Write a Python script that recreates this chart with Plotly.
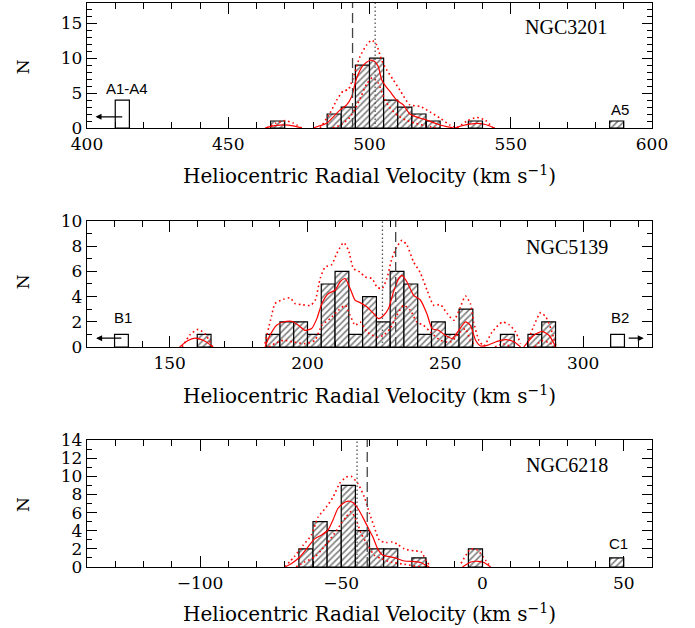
import plotly.graph_objects as go

BIN_WIDTH = 5

# ---------------- NGC3201 ----------------
p1_bin_left = [465, 485, 490, 495, 500, 505, 510, 515, 520, 535, 585]
p1_counts = [1, 2, 3, 9, 10, 4, 3, 2, 1, 1, 1]
p1_open_left = [410]
p1_open_counts = [4]
p1_kde_x = [463, 466, 470, 473, 476, None, 480, 484.8, 487.2, 489.6, 491.9, 493.7, 494.9, 496.1, 497.8,
            500.2, 501.9, 503.1, 504.3, 505.5, 507.3, 509.6, 512, 514.3, 517.9, 520.2, 522.6, 525,
            527.3, 529.7, None, 530, 534, 538, 541, 544.4]
p1_kde_y = [0, 0.3, 0.45, 0.3, 0, None, 0, 0.67, 1.6, 2.6, 3.3, 4.5, 6.4, 7.8, 9.0,
            9.7, 9.5, 8.8, 6.9, 6.1, 5.2, 4.0, 3.3, 2.0, 1.4, 1.15, 0.76, 0.43,
            0.19, 0, None, 0, 0.45, 0.67, 0.5, 0]
p1_up_x = [463.6, 467, 470.1, 473, 476, None, 482.5, 486, 488.4, 490.7, 492.5, 494.3, 496.6, 499,
           500.8, 502.5, 504.3, 506.1, 508.4, 510.8, 514.3, 517.9, 521.4, 525, 528.5, 531, None,
           531, 534.5, 538, 541, 543.7]
p1_up_y = [0, 0.7, 1.05, 0.7, 0, None, 0, 2.1, 4.0, 5.3, 5.5, 7.3, 10.2, 11.9,
           12.6, 11.9, 9.7, 8.3, 6.9, 5.4, 3.3, 3.1, 2.3, 1.4, 0.43, 0, None,
           0, 1.0, 1.5, 1.1, 0]
p1_lo_x = [487, 490, 493, 495, 497, 499, 501, 503, 505, 507, 510, 513, 516, 520, 524]
p1_lo_y = [0, 0.5, 1.5, 2.8, 4.5, 6.3, 7.2, 6.5, 4.5, 3.0, 1.8, 1.1, 0.7, 0.3, 0]
p1_dotted_v = 502
p1_dashed_v = 494

# ---------------- NGC5139 ----------------
p2_bin_left = [160, 185, 190, 195, 200, 205, 210, 215, 220, 225, 230, 235, 240, 245, 250, 255, 270, 280, 285]
p2_counts = [1, 1, 2, 2, 1, 5, 6, 1, 4, 2, 6, 5, 1, 2, 1, 3, 1, 1, 2]
p2_open_left = [130, 310]
p2_open_counts = [1, 1]
p2_kde_x = [153.6, 156.5, 159.1, 162.5, 165.8, None,
            184.6, 186.4, 188.8, 191.2, 194.3, 196.7, 199.1, 201.5, 203.4, 205.2, 207.6, 210, 211.8,
            213.7, 215.5, 217.3, 219.1, 221.6, 224, 225.8, 227.6, 229.4, 231.2, 233.1, 234.3, 236.1,
            238.5, 240.9, 243.4, 245.2, 247.6, 250, 252.5, 254.9, 257.3, 259.1, 261, 262.8, 265.2,
            268.8, 271.9, 274.9, 277.3, None, 278.5, 282.2, 285.2, 287.6, 290.1]
p2_kde_y = [0, 0.5, 0.71, 0.5, 0, None,
            0, 0.93, 1.72, 1.98, 2.04, 1.72, 1.32, 1.46, 2.25, 3.44, 4.24, 4.5, 5.16,
            5.43, 4.63, 3.7, 3.52, 3.17, 2.65, 2.25, 2.5, 3.05, 4.37, 5.43, 5.69, 5.16,
            4.1, 3.75, 2.6, 1.46, 1.32, 0.93, 0.67, 1.32, 2.0, 1.72, 0.53, 0.08, 0.13,
            0.45, 0.58, 0.42, 0, None, 0, 0.93, 1.24, 0.93, 0]
p2_up_x = [154.5, 157.5, 160.3, 163, 165.5, None,
           184.6, 187, 188.2, 191.2, 193.7, 195.5, 197.9, 201, 202.8, 204.6, 206.4, 208.8, 210.6,
           213.1, 214.9, 216.7, 219.1, 220.9, 223.4, 225.2, 227, 228.8, 230.6, 232.4, 234.3, 236.1,
           238.5, 240.9, 243.4, 245.8, 248.2, 250.7, 253.1, 255.5, 257.3, 259.1, 260.3, 262.2, 264,
           267, 270.7, 273.1, 275.5, 277.3, None, 279.8, 282.2, 284.6, 286.5, 288.3, 290.1]
p2_up_y = [0, 1.0, 1.4, 1.0, 0, None,
           0.27, 2.5, 3.44, 3.78, 3.9, 3.44, 3.36, 3.3, 3.7, 5.43, 6.35, 6.54, 7.41,
           8.28, 7.67, 6.22, 5.95, 5.56, 5.43, 4.76, 4.63, 5.43, 7.0, 7.94, 8.47, 8.07,
           6.75, 5.9, 4.5, 3.31, 3.36, 2.65, 2.12, 3.17, 4.05, 3.44, 1.98, 0.53, 0.08,
           1.19, 1.98, 1.77, 1.19, 0.26, None, 0.3, 1.72, 2.73, 2.38, 1.46, 0.13]
p2_lo_x = [186, 188.2, 191.2, 194.8, 199.1, 202.7, 205.2, 208.2, 211.2, 213.7, 215.5, 217.3, 219.1,
           221.6, 225.2, 227.6, 230, 232.4, 234.9, 237.3, 239.7, 242.1, 244.6, 248.2, 251.9, 255.5,
           257.3, 259.1, 261, None, 268, 271, 274, None, 282.5, 285, 288, 290]
p2_lo_y = [0, 0.27, 0.53, 0.4, 0.27, 0.53, 1.72, 2.25, 2.91, 3.31, 2.51, 1.72, 1.98,
           1.19, 0.79, 0.93, 1.46, 2.51, 3.31, 2.91, 1.98, 1.72, 1.19, 0.53, 0.4, 1.19,
           1.46, 0.53, 0.08, None, 0, 0.25, 0, None, 0, 0.5, 0.3, 0]
p2_dotted_v = 227.2
p2_dashed_v = 232

# ---------------- NGC6218 ----------------
p3_bin_left = [-65, -60, -55, -50, -45, -40, -35, -25, -5, 45]
p3_counts = [2, 5, 4, 9, 4, 2, 2, 1, 2, 1]
p3_kde_x = [-70, -67.7, -64.7, -61.8, -59.4, -57.1, -54.7, -52.9, -51.2, -49.4, -47.6, -45.9, -44.1,
            -42.4, -40.6, -38.8, -37.1, -35.3, -33.5, -31.2, -27.7, -24.1, -21.8, -20, -18.8, None,
            -7.1, -4.1, -1.5, 0.5, 2.9]
p3_kde_y = [0, 0.37, 1.1, 2.2, 3.1, 3.5, 4.05, 5.2, 6.45, 7.0, 7.26, 7.1, 6.45,
            5.5, 4.4, 3.3, 2.0, 1.3, 1.18, 1.03, 0.66, 0.6, 0.5, 0.18, 0, None,
            0, 0.55, 0.63, 0.5, 0]
p3_up_x = [-70, -66.5, -63.5, -60.6, -58.2, -55.3, -52.9, -50.6, -48.3, -46.5, -44.1, -41.8, -40,
           -38.3, -36.5, -34.1, -31.8, -30, -27.7, -24.1, -21.8, -20, -18.8, None,
           -7.6, -4.1, -1.8, 1.2, 2.9]
p3_up_y = [0, 1.18, 2.4, 3.5, 5.5, 6.6, 7.7, 9.2, 9.9, 10.0, 9.2, 7.7, 5.9,
           4.4, 2.95, 2.7, 2.76, 2.5, 2.0, 1.77, 1.7, 0.74, 0.2, None,
           0.4, 2.0, 1.85, 0.7, 0]
p3_lo_x = [-66, -63, -59.4, -57.1, -54.7, -52.4, -50, -48.3, -46.5, -44.7, -43, -40.6, -38.3,
           -35.9, -32.4, -27.7, -22]
p3_lo_y = [0, 0.55, 1.1, 1.84, 2.76, 3.7, 4.8, 5.5, 6.1, 5.2, 3.7, 2.4, 1.3,
           0.92, 0.55, 0.3, 0]
p3_dotted_v = -44.4
p3_dashed_v = -40.8

panel_names = ["NGC3201", "NGC5139", "NGC6218"]
xtitle = "Heliocentric Radial Velocity (km s<sup>−1</sup>)"

SERIF = "DejaVu Serif"
SANS = "Liberation Sans"

fig = go.Figure()


def centers(lefts):
    return [v + BIN_WIDTH / 2 for v in lefts]


panels = [
    dict(xa="x", ya="y", left=p1_bin_left, cnt=p1_counts, oleft=p1_open_left, ocnt=p1_open_counts,
         kx=p1_kde_x, ky=p1_kde_y, ux=p1_up_x, uy=p1_up_y, lx=p1_lo_x, ly=p1_lo_y,
         dot=p1_dotted_v, dash=p1_dashed_v),
    dict(xa="x2", ya="y2", left=p2_bin_left, cnt=p2_counts, oleft=p2_open_left, ocnt=p2_open_counts,
         kx=p2_kde_x, ky=p2_kde_y, ux=p2_up_x, uy=p2_up_y, lx=p2_lo_x, ly=p2_lo_y,
         dot=p2_dotted_v, dash=p2_dashed_v),
    dict(xa="x3", ya="y3", left=p3_bin_left, cnt=p3_counts, oleft=[], ocnt=[],
         kx=p3_kde_x, ky=p3_kde_y, ux=p3_up_x, uy=p3_up_y, lx=p3_lo_x, ly=p3_lo_y,
         dot=p3_dotted_v, dash=p3_dashed_v),
]
y_tops = [17.9, 10, 14]

for i, p in enumerate(panels):
    fig.add_trace(go.Bar(
        x=centers(p["left"]), y=p["cnt"], width=BIN_WIDTH, xaxis=p["xa"], yaxis=p["ya"],
        marker=dict(color="white", line=dict(color="black", width=1.2),
                    pattern=dict(shape="/", fgcolor="black", bgcolor="white", size=4.5, solidity=0.36)),
        showlegend=False, hoverinfo="skip"))
    if p["oleft"]:
        fig.add_trace(go.Bar(
            x=centers(p["oleft"]), y=p["ocnt"], width=BIN_WIDTH, xaxis=p["xa"], yaxis=p["ya"],
            marker=dict(color="white", line=dict(color="black", width=1.2)),
            showlegend=False, hoverinfo="skip"))
    for xs, ys, dash, w in [(p["ux"], p["uy"], "1.6px,3px", 1.6), (p["lx"], p["ly"], "1.6px,3px", 1.6),
                            (p["kx"], p["ky"], "solid", 1.2)]:
        fig.add_trace(go.Scatter(x=xs, y=ys, mode="lines", xaxis=p["xa"], yaxis=p["ya"],
                                 line=dict(color="#ff0000", width=w, dash=dash, shape="spline",
                                           smoothing=0.6),
                                 connectgaps=False, showlegend=False, hoverinfo="skip"))
    fig.add_trace(go.Scatter(x=[p["dash"], p["dash"]], y=[0, y_tops[i]], mode="lines",
                             xaxis=p["xa"], yaxis=p["ya"],
                             line=dict(color="#444444", width=1.3, dash="10px,5px"),
                             showlegend=False, hoverinfo="skip"))
    fig.add_trace(go.Scatter(x=[p["dot"], p["dot"]], y=[0, y_tops[i]], mode="lines",
                             xaxis=p["xa"], yaxis=p["ya"],
                             line=dict(color="#555555", width=1.3, dash="1.5px,2.5px"),
                             showlegend=False, hoverinfo="skip"))

x_ranges = [[400, 600], [120, 325], [-140, 60]]
y_ranges = [[0, 17.9], [0, 10], [0, 14]]
y_domains = [[0.7784, 1.0], [0.3901, 0.6135], [0.0, 0.2252]]
y_dticks = [5, 2, 2]

axis_common = dict(showline=True, linecolor="black", linewidth=1.3, mirror="allticks",
                   ticks="inside", tickcolor="black", tickwidth=1.2, showgrid=False,
                   zeroline=False, automargin=False,
                   tickfont=dict(family=SERIF, size=17, color="black"))

for i in range(3):
    sfx = "" if i == 0 else str(i + 1)
    fig.update_layout(**{
        "xaxis" + sfx: dict(axis_common, range=x_ranges[i], anchor="y" + sfx, domain=[0, 1],
                            dtick=50, ticklen=11,
                            minor=dict(ticks="inside", dtick=10, ticklen=6, tickcolor="black",
                                       tickwidth=1.2, showgrid=False)),
        "yaxis" + sfx: dict(axis_common, range=y_ranges[i], anchor="x" + sfx, domain=y_domains[i],
                            dtick=y_dticks[i], ticklen=10,
                            minor=dict(ticks="inside", dtick=1, ticklen=5, tickcolor="black",
                                       tickwidth=1.2, showgrid=False)),
    })

annotations = []
# panel names
name_pos = [(569.6, 14.4), (294.3, 7.94), (30, 11.2)]
for i in range(3):
    sfx = "" if i == 0 else str(i + 1)
    annotations.append(dict(x=name_pos[i][0], y=name_pos[i][1], xref="x" + sfx, yref="y" + sfx,
                            text=panel_names[i], showarrow=False,
                            font=dict(family="Liberation Serif", size=20, color="black")))
# x titles and y titles
x_title_y = [0.695, 0.305, -0.0816]
n_title_y = [0.8865, 0.505, 0.11]
for i in range(3):
    annotations.append(dict(x=0.5, y=x_title_y[i], xref="paper", yref="paper", text=xtitle,
                            showarrow=False, xanchor="center", yanchor="middle",
                            font=dict(family=SERIF, size=20, color="black")))
    annotations.append(dict(x=-0.113, y=n_title_y[i], xref="paper", yref="paper", text="N",
                            showarrow=False, textangle=-90, xanchor="center", yanchor="middle",
                            font=dict(family=SERIF, size=17, color="black")))

# outlier labels
outlier_labels = [("A1-A4", 414.3, 5.6, "x", "y"), ("A5", 588.7, 2.6, "x", "y"),
                  ("B1", 133, 2.33, "x2", "y2"), ("B2", 313.4, 2.33, "x2", "y2"),
                  ("C1", 48.2, 2.58, "x3", "y3")]
for t, x, y, xr, yr in outlier_labels:
    annotations.append(dict(x=x, y=y, xref=xr, yref=yr, text=t, showarrow=False,
                            font=dict(family=SANS, size=15, color="black")))

# arrows (tip, tail)
arrows = [((403, 1.6), (413, 1.6), "x", "y"),
          ((123.3, 0.7), (133, 0.7), "x2", "y2"),
          ((322, 0.7), (316, 0.7), "x2", "y2")]
for (tx, ty), (sx, sy), xr, yr in arrows:
    annotations.append(dict(x=tx, y=ty, ax=sx, ay=sy, xref=xr, yref=yr, axref=xr, ayref=yr,
                            text="", showarrow=True, arrowhead=2, arrowsize=1, arrowwidth=1.2,
                            arrowcolor="black"))

fig.update_layout(width=695, height=628, margin=dict(l=87, r=43, t=3, b=61, autoexpand=False),
                  paper_bgcolor="white", plot_bgcolor="white", barmode="overlay",
                  annotations=annotations, showlegend=False)

fig.write_html("out.html", config={"displayModeBar": False},
               post_script="document.body.style.margin='0px';")
